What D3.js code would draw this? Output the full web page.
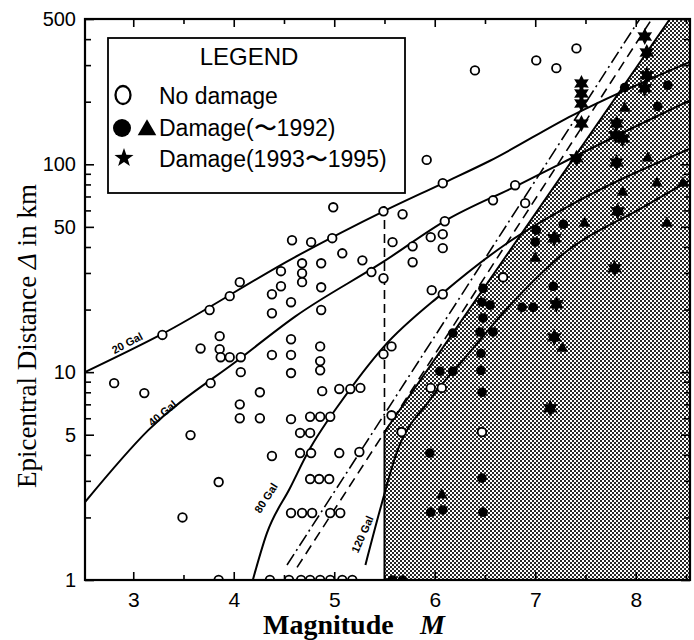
<!DOCTYPE html>
<html><head><meta charset="utf-8">
<script src="https://cdn.jsdelivr.net/npm/d3@7"></script>
<style>body{margin:0;background:#fff}svg{display:block}</style>
</head><body>
<svg id="c" width="694" height="640"></svg>
<script>
// ---------- data ----------
const xTicks = [3,4,5,6,7,8];
const xMinorTicks = [3.5,4.5,5.5,6.5,7.5,8.5];
const yTickLabels = [1,5,10,50,100,500];
const yMinorTicks = [2,3,4,6,7,8,9,20,30,40,60,70,80,90,200,300,400];

// [Magnitude M, Epicentral distance in km]
const noDamage = [
 [3.85,1],[4.36,1],[4.55,1],[4.67,1],[4.76,1],[4.86,1],[4.96,1],[5.08,1],[5.18,1],
 [3.49,2.0],[3.85,2.96],[3.57,4.98],[4.06,7.0],[4.06,6.0],[2.81,8.85],[3.11,7.93],
 [3.29,15.1],[3.67,13.0],[3.76,19.9],[3.86,14.9],[3.86,12.9],[3.87,11.8],[3.96,11.8],[4.07,11.8],
 [3.96,23.2],[4.06,27.1],[3.77,8.85],[4.07,10],[4.26,8.0],[4.26,6.0],
 [4.38,23.7],[4.47,30.6],[4.47,25.9],[4.57,21.7],[4.58,43.1],[4.38,19.2],[4.38,12.1],[4.57,14.4],
 [4.57,12.1],[4.57,9.9],[4.57,5.94],[4.38,3.95],
 [4.77,42.2],[4.98,44.1],[4.99,62.1],[4.68,33.4],[4.68,29.9],[4.68,27.1],[4.87,33.4],[4.87,25.6],[4.87,19.9],
 [5.08,37.3],[5.28,34.5],[5.37,30.3],[5.49,28.3],[5.49,59.4],[5.68,57.5],[5.58,42.2],[5.78,40.3],[5.78,33.8],
 [5.96,44.6],[6.08,46.1],[6.08,39.5],[6.10,53.2],[5.97,24.8],[6.08,23.7],[5.92,105],[6.08,81.1],
 [6.58,67.1],[6.80,79.3],[6.90,65.0],[6.40,283],[7.01,316],[7.21,290],[7.41,361],
 [4.86,13.3],[4.86,11.3],[4.86,10.2],[5.57,13.3],[5.49,12.2],[4.88,8.1],[5.05,8.3],[5.16,8.3],[5.26,8.4],
 [4.76,6.1],[4.86,6.1],[4.96,6.1],[5.57,6.2],[4.66,5.1],[4.76,5.1],[4.66,4.08],[4.77,4.08],[5.05,4.08],[5.25,4.13],
 [4.76,3.06],[4.85,3.06],[4.95,3.06],[4.57,2.1],[4.68,2.1],[4.78,2.1],[4.96,2.1],[5.06,2.1],
 [5.67,5.15],[5.96,8.4],[6.07,8.4],[6.47,5.15],[6.68,28.6]
];
const damageCircle = [
 [5.58,1],[5.68,1],[5.95,4.08],[5.96,2.12],[6.08,2.17],[6.05,10.1],[6.18,10.1],[6.18,15.4],
 [6.47,3.09],[6.48,2.12],[6.46,10.2],[6.47,8.0],[6.46,12.3],[6.45,15.6],[6.58,15.6],[6.48,25.3],
 [6.47,21.7],[6.55,21.0],[6.48,18.2],[6.87,20.5],[6.98,20.5],[7.18,25.9],[7.01,48.2],[7.00,42.2],
 [7.28,51.5],[7.89,234],[8.32,240],[8.22,190]
];
const damageTriangle = [
 [6.07,2.56],[7.00,35.3],[7.27,13.0],[7.49,52.0],[8.31,52.0],[7.89,186],[8.12,107],[8.21,81.1],[7.87,73.3],[8.47,81]
];
const damageStar = [
 [7.15,6.7],[7.19,14.7],[7.21,21.2],[7.19,44.1],[7.79,31.6],[7.82,59.4],[7.41,107],[7.46,157],
 [7.46,196],[7.46,219],[7.46,245],[7.81,157],[7.80,138],[7.87,133],[7.81,102],
 [8.09,412],[8.11,345],[8.11,268],[8.09,232]
];

const gal20  = [[2.52,10],[3.27,15.1],[4.61,35.8],[5.49,59.4],[6.08,81],[6.55,104],[7.37,172],[8.54,311]];
const gal40  = [[2.52,2.37],[3.15,5.26],[4.08,11.8],[4.61,18.5],[5.49,34],[6.12,54],[6.82,79],[7.24,100],[7.91,145],[8.54,203]];
const gal80  = [[4.19,1],[4.33,1.68],[4.56,2.77],[4.76,4.3],[4.93,5.8],[5.03,6.8],[5.49,13.2],[6.08,24],[6.72,41.7],[7.31,62],[8.54,119]];
const gal120 = [[5.31,1.18],[5.455,2.17],[5.62,4.08],[5.95,7.33],[6.35,12.5],[6.75,21],[7.24,35.8],[8.07,62.1],[8.54,84]];
const galNames = ["20 Gal","40 Gal","80 Gal","120 Gal"];

const lineDashDot = [[4.53,1.18],[8.04,500]];
const lineDashed  = [[4.63,1.15],[8.16,500]];
const lineM55     = [[5.5,63],[5.5,5.15]];
const shadeEdge   = [[5.5,1],[5.5,5.15],[8.34,500]];

const legendTitle = "LEGEND";
const legendItems = ["No damage","Damage(〜1992)","Damage(1993〜1995)"];
const xTitle = "Magnitude";
const xTitleVar = "M";

// ---------- drawing ----------
const svg = d3.select("#c");
const L = 85, R = 690, T = 19, B = 580;
const x = d3.scaleLinear().domain([2.52,8.54]).range([L,R]);
const y = d3.scaleLog().domain([1,500]).range([B,T]);
const sans = "'Liberation Sans', Arial, sans-serif";
const serif = "'Liberation Serif', 'Times New Roman', serif";

const defs = svg.append("defs");
defs.append("clipPath").attr("id","plot").append("rect")
  .attr("x",L).attr("y",T).attr("width",R-L).attr("height",B-T);
const pat = defs.append("pattern").attr("id","dots").attr("patternUnits","userSpaceOnUse")
  .attr("width",4).attr("height",4);
pat.append("rect").attr("width",4).attr("height",4).attr("fill","#fff");
pat.append("rect").attr("x",0).attr("y",0).attr("width",2).attr("height",2).attr("fill","#262626");
pat.append("rect").attr("x",2).attr("y",2).attr("width",2).attr("height",2).attr("fill","#262626");

const plot = svg.append("g").attr("clip-path","url(#plot)");
const line = d3.line().x(d=>x(d[0])).y(d=>y(d[1]));
const curve = d3.line().x(d=>x(d[0])).y(d=>y(d[1])).curve(d3.curveMonotoneX);

// shaded damage region
const dom = x.domain(), ydom = y.domain();
const shadePoly = shadeEdge.concat([[dom[1],ydom[1]],[dom[1],ydom[0]]]);
plot.append("path").attr("d", line(shadePoly)+"Z").attr("fill","url(#dots)").attr("stroke","none");
plot.append("path").attr("d", line(shadeEdge)).attr("fill","none").attr("stroke","#000").attr("stroke-width",2);

// dashed boundaries
plot.append("path").attr("d", line(lineDashDot)).attr("fill","none").attr("stroke","#000")
  .attr("stroke-width",1.6).attr("stroke-dasharray","13,4,2,4");
plot.append("path").attr("d", line(lineDashed)).attr("fill","none").attr("stroke","#000")
  .attr("stroke-width",1.6).attr("stroke-dasharray","10,6");
plot.append("path").attr("d", line(lineM55)).attr("fill","none").attr("stroke","#000")
  .attr("stroke-width",1.6).attr("stroke-dasharray","9,5");

// attenuation curves
[gal20,gal40,gal80,gal120].forEach(g=>{
  plot.append("path").attr("d", curve(g)).attr("fill","none").attr("stroke","#000").attr("stroke-width",2);
});
// labels of curves  (anchor in data units, rotation)
const galLabelPos = [[2.94,13.8,-28],[3.29,6.35,-40],[4.32,2.48,-57],[5.28,1.66,-66]];
galNames.forEach((t,i)=>{
  const p = galLabelPos[i];
  svg.append("text").attr("transform",`translate(${x(p[0])},${y(p[1])}) rotate(${p[2]})`)
    .attr("text-anchor","middle").attr("dy","0.35em")
    .style("font-family",sans).style("font-size","11px").style("font-weight","bold").text(t);
});

// points
plot.selectAll(".nd").data(noDamage).join("circle")
  .attr("cx",d=>x(d[0])).attr("cy",d=>y(d[1])).attr("r",4.3)
  .attr("fill","#fff").attr("stroke","#000").attr("stroke-width",1.8);
plot.selectAll(".dc").data(damageCircle).join("circle")
  .attr("cx",d=>x(d[0])).attr("cy",d=>y(d[1])).attr("r",4.8).attr("fill","#000");
const tri = d3.symbol().type(d3.symbolTriangle).size(60);
plot.selectAll(".dt").data(damageTriangle).join("path")
  .attr("transform",d=>`translate(${x(d[0])},${y(d[1])})`).attr("d",tri).attr("fill","#000");
function starPath(n, Ro, Ri){
  const pts=[];
  for(let i=0;i<2*n;i++){
    const a=-Math.PI/2+i*Math.PI/n, r=i%2?Ri:Ro;
    pts.push([r*Math.cos(a), r*Math.sin(a)]);
  }
  return "M"+pts.map(p=>p[0].toFixed(2)+","+p[1].toFixed(2)).join("L")+"Z";
}
plot.selectAll(".ds").data(damageStar).join("path")
  .attr("transform",d=>`translate(${x(d[0])},${y(d[1])})`).attr("d",starPath(6,8.5,4.6)).attr("fill","#000");

// axes
function styleAxis(g){ g.select(".domain").remove(); g.selectAll("line").attr("stroke","#000").attr("stroke-width",1.6); }
svg.append("g").attr("transform",`translate(0,${B})`)
  .call(d3.axisBottom(x).tickValues(xTicks).tickSize(-8).tickPadding(12).tickFormat(d3.format("d")))
  .call(styleAxis).call(g=>g.selectAll("text").style("font-family",sans).style("font-size","21px").attr("fill","#000"));
svg.append("g").attr("transform",`translate(0,${B})`)
  .call(d3.axisBottom(x).tickValues(xMinorTicks).tickSize(-5).tickFormat(""))
  .call(styleAxis);
svg.append("g").attr("transform",`translate(0,${T})`)
  .call(d3.axisTop(x).tickValues(xTicks).tickSize(-8).tickFormat("")).call(styleAxis);
svg.append("g").attr("transform",`translate(0,${T})`)
  .call(d3.axisTop(x).tickValues(xMinorTicks).tickSize(-5).tickFormat("")).call(styleAxis);
svg.append("g").attr("transform",`translate(${L},0)`)
  .call(d3.axisLeft(y).tickValues(yTickLabels).tickSize(-9).tickPadding(9).tickFormat(d3.format("d")))
  .call(styleAxis).call(g=>g.selectAll("text").style("font-family",sans).style("font-size","20px").attr("fill","#000"));
svg.append("g").attr("transform",`translate(${L},0)`)
  .call(d3.axisLeft(y).tickValues(yMinorTicks).tickSize(-6).tickFormat("")).call(styleAxis);
svg.append("g").attr("transform",`translate(${R},0)`)
  .call(d3.axisRight(y).tickValues(yTickLabels).tickSize(-9).tickFormat("")).call(styleAxis);
svg.append("g").attr("transform",`translate(${R},0)`)
  .call(d3.axisRight(y).tickValues(yMinorTicks).tickSize(-6).tickFormat("")).call(styleAxis);

svg.append("rect").attr("x",L).attr("y",T).attr("width",R-L).attr("height",B-T)
  .attr("fill","none").attr("stroke","#000").attr("stroke-width",2.2);

// axis titles
const yt = svg.append("text").attr("transform","translate(36,336) rotate(-90)")
  .attr("text-anchor","middle").style("font-family",serif).style("font-size","27px");
yt.append("tspan").text("Epicentral Distance ");
yt.append("tspan").style("font-style","italic").text("Δ");
yt.append("tspan").text(" in km");
const xt = svg.append("text").attr("y",634).style("font-family",serif).style("font-size","28px").style("font-weight","bold");
xt.append("tspan").attr("x",263).text(xTitle);
xt.append("tspan").attr("x",420).style("font-style","italic").text(xTitleVar);

// legend
const lg = svg.append("g");
lg.append("rect").attr("x",108).attr("y",38).attr("width",297).attr("height",155)
  .attr("fill","#fff").attr("stroke","#000").attr("stroke-width",1.8);
lg.append("text").attr("x",249).attr("y",65).attr("text-anchor","middle")
  .style("font-family",sans).style("font-size","24px").text(legendTitle);
const rowY = [104,136,167];
legendItems.forEach((t,i)=>{
  lg.append("text").attr("x",159).attr("y",rowY[i]).style("font-family",sans).style("font-size","23px").text(t);
});
lg.append("ellipse").attr("cx",123).attr("cy",95).attr("rx",7.5).attr("ry",9)
  .attr("fill","none").attr("stroke","#000").attr("stroke-width",2.3);
lg.append("circle").attr("cx",122).attr("cy",128).attr("r",9).attr("fill","#000");
lg.append("path").attr("transform","translate(147,130)").attr("d",d3.symbol().type(d3.symbolTriangle).size(150)).attr("fill","#000");
lg.append("path").attr("transform","translate(124,158)").attr("d",starPath(5,10,4)).attr("fill","#000");
</script>
</body></html>
